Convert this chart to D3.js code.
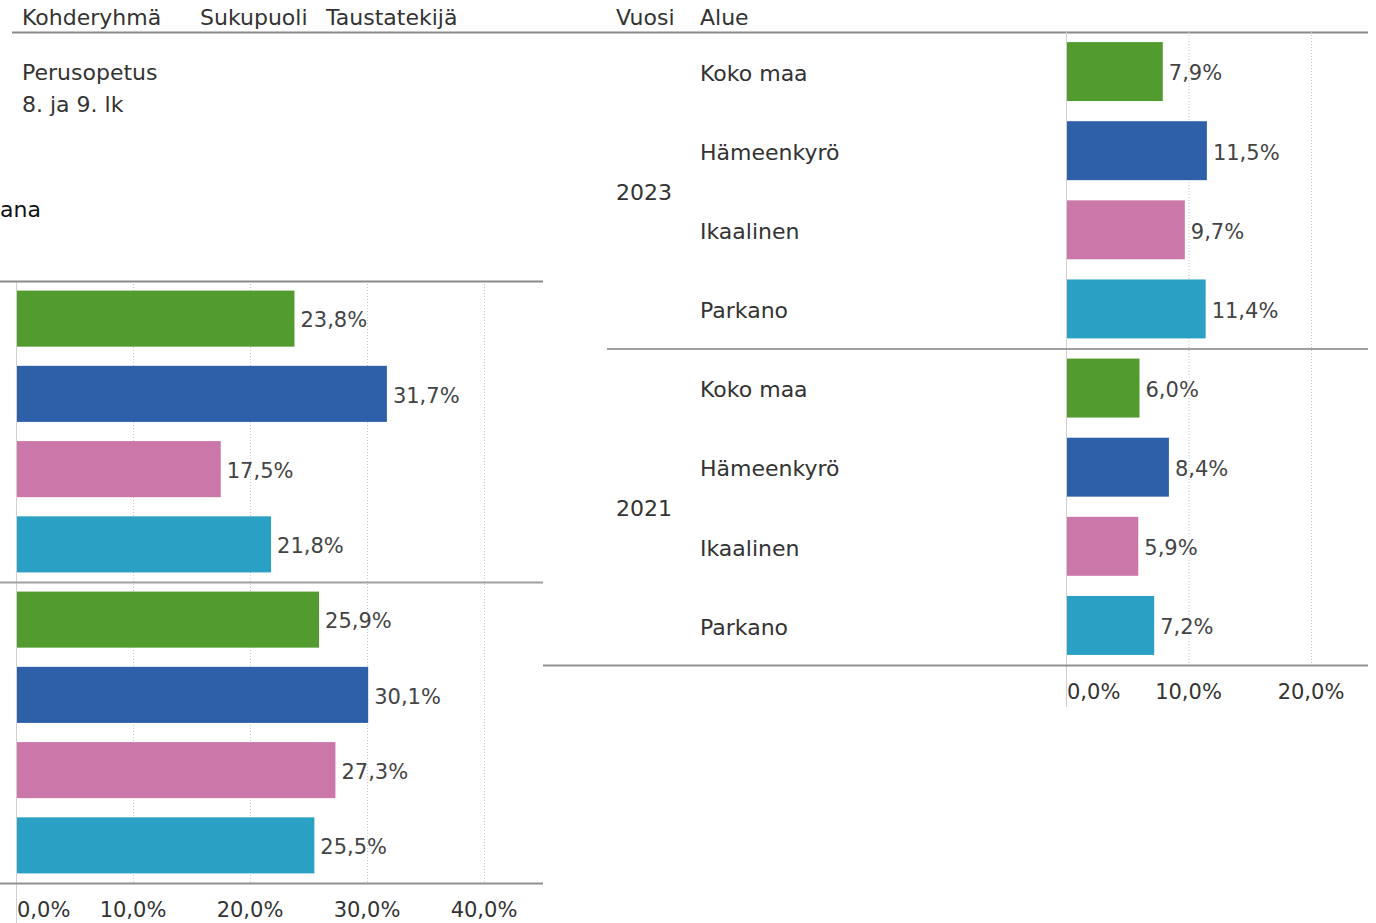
<!DOCTYPE html>
<html>
<head>
<meta charset="utf-8">
<script src="https://d3js.org/d3.v7.min.js"></script>
<style>
  body { margin: 0; background: #fff; }
  svg text { font-family: "DejaVu Sans", sans-serif; }
</style>
</head>
<body>
<div id="chart"></div>
<script>
// Data
const years = ["2023", "2021"];
const areas = ["Koko maa", "Hämeenkyrö", "Ikaalinen", "Parkano"];
const leftValues2023 = [23.8, 31.7, 17.5, 21.8];
const leftValues2021 = [25.9, 30.1, 27.3, 25.5];
const rightValues2023 = [7.9, 11.5, 9.7, 11.4];
const rightValues2021 = [6.0, 8.4, 5.9, 7.2];
const leftTicks = [0, 10, 20, 30, 40];
const rightTicks = [0, 10, 20];
const headerLeft = ["Kohderyhmä", "Sukupuoli", "Taustatekijä"];
const headerRight = ["Vuosi", "Alue"];
const colors = ["#529b2f", "#2e60aa", "#cc77aa", "#2aa0c4"];

const W = 1376, H = 923;
const svg = d3.select("#chart").append("svg").attr("width", W).attr("height", H);

const fmt = v => d3.format(".1f")(v).replace(".", ",") + "%";
const textCol = "#333";
const fs = "22px";   // headers and row labels
const fsv = "21px";  // values and ticks

// Header
const headerX = [22, 200, 326];
headerLeft.forEach((t, i) => {
  svg.append("text").attr("x", headerX[i]).attr("y", 25).text(t)
    .style("font-size", fs).style("fill", textCol);
});
[616, 700].forEach((x, i) => {
  svg.append("text").attr("x", x).attr("y", 25).text(headerRight[i])
    .style("font-size", fs).style("fill", textCol);
});
svg.append("line").attr("x1", 12).attr("x2", 1368).attr("y1", 32.5).attr("y2", 32.5)
  .attr("stroke", "#8a8a8a").attr("stroke-width", 2);

svg.append("text").attr("x", 22).attr("y", 80).text("Perusopetus")
  .style("font-size", fs).style("fill", textCol);
svg.append("text").attr("x", 22).attr("y", 112).text("8. ja 9. lk")
  .style("font-size", fs).style("fill", textCol);

svg.append("text").attr("x", 0).attr("y", 217).text("ana")
  .style("font-size", "22px").style("fill", "#111");

// Generic panel drawer
function drawPanel(opts) {
  const g = svg.append("g");
  const x = d3.scaleLinear().domain([0, 10]).range([opts.x0, opts.x10]);
  const yOuter = d3.scaleBand().domain(years).range([opts.top, opts.bottom]);
  const yInner = d3.scaleBand().domain(areas).range([0, yOuter.bandwidth()])
    .paddingInner(0.255).paddingOuter(0.1275);

  // gridlines
  g.selectAll(".grid").data(opts.ticks.filter(t => t > 0)).enter().append("line")
    .attr("x1", d => x(d) + 0.5).attr("x2", d => x(d) + 0.5)
    .attr("y1", opts.top).attr("y2", opts.bottom)
    .attr("stroke", "#c8c8c8").attr("stroke-dasharray", "1,2");

  // bars and value labels
  years.forEach((yr, gi) => {
    const vals = opts.values[gi];
    const gg = g.append("g").attr("transform", `translate(0,${yOuter(yr)})`);
    gg.selectAll("rect").data(vals).enter().append("rect")
      .attr("x", x(0) + 1).attr("y", (d, i) => yInner(areas[i]))
      .attr("width", d => x(d) - x(0) - 1).attr("height", yInner.bandwidth())
      .attr("fill", (d, i) => colors[i]);
    gg.selectAll("text.val").data(vals).enter().append("text").attr("class", "val")
      .attr("x", d => x(d) + 6).attr("y", (d, i) => yInner(areas[i]) + yInner.bandwidth() / 2)
      .attr("dy", "0.42em").text(fmt)
      .style("font-size", fsv).style("fill", "#444");
    if (opts.labels) {
      gg.selectAll("text.area").data(areas).enter().append("text").attr("class", "area")
        .attr("x", 700).attr("y", d => yInner(d) + yInner.bandwidth() / 2)
        .attr("dy", "0.42em").text(d => d)
        .style("font-size", fs).style("fill", textCol);
      gg.append("text").attr("x", 616).attr("y", yOuter.bandwidth() / 2 + 2)
        .attr("dy", "0.35em").text(yr)
        .style("font-size", fs).style("fill", textCol);
    }
  });

  // axis line (vertical at 0)
  g.append("line").attr("x1", x(0) + 0.5).attr("x2", x(0) + 0.5)
    .attr("y1", opts.top).attr("y2", opts.axisEnd)
    .attr("stroke", "#d0d0d0").attr("stroke-width", 1);

  // separators
  g.append("line").attr("x1", opts.sepX0).attr("x2", opts.sepX1)
    .attr("y1", yOuter("2021") + 0.5).attr("y2", yOuter("2021") + 0.5)
    .attr("stroke", "#a0a0a0").attr("stroke-width", 2);
  g.append("line").attr("x1", opts.botX0).attr("x2", opts.sepX1)
    .attr("y1", opts.bottom + 0.5).attr("y2", opts.bottom + 0.5)
    .attr("stroke", "#909090").attr("stroke-width", 2);
  if (opts.topLine) {
    g.append("line").attr("x1", 0).attr("x2", opts.sepX1)
      .attr("y1", opts.top + 0.5).attr("y2", opts.top + 0.5)
      .attr("stroke", "#8a8a8a").attr("stroke-width", 2);
  }

  // tick labels
  g.selectAll(".tick").data(opts.ticks).enter().append("text")
    .attr("x", d => d === 0 ? x(0) + 1 : x(d))
    .attr("y", opts.bottom + 34)
    .attr("text-anchor", d => d === 0 ? "start" : "middle")
    .text(d => fmt(d))
    .style("font-size", fsv).style("fill", textCol);
}

drawPanel({
  x0: 16, x10: 133, top: 281, bottom: 883, axisEnd: 923,
  values: [leftValues2023, leftValues2021], ticks: leftTicks,
  sepX0: 0, sepX1: 543, botX0: 0, topLine: true, labels: false
});

drawPanel({
  x0: 1066, x10: 1188.5, top: 32, bottom: 665, axisEnd: 707,
  values: [rightValues2023, rightValues2021], ticks: rightTicks,
  sepX0: 607, sepX1: 1368, botX0: 543, topLine: false, labels: true
});
</script>
</body>
</html>
